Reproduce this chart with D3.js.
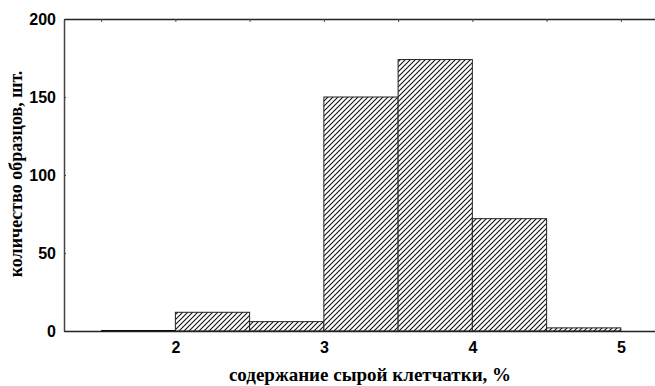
<!DOCTYPE html>
<html>
<head>
<meta charset="utf-8">
<script src="https://cdn.jsdelivr.net/npm/d3@7"></script>
<style>
  html, body { margin: 0; padding: 0; background: #fff; }
  svg { display: block; }
</style>
</head>
<body>
<svg id="chart" width="655" height="386"></svg>
<script>
// Histogram bins (lower edge, upper edge) and sample counts
const binStarts = [1.5, 2.0, 2.5, 3.0, 3.5, 4.0, 4.5];
const binEnds   = [2.0, 2.5, 3.0, 3.5, 4.0, 4.5, 5.0];
const counts    = [0, 12, 6, 150, 174, 72, 2];
const xTicks = [2, 3, 4, 5];
const yTicks = [0, 50, 100, 150, 200];
const topTicks = [1.5, 2, 2.5, 3, 3.5, 4, 4.5, 5];

const svg = d3.select("#chart");
const W = 655, H = 386;
const m = { left: 64, right: 0, top: 19, bottom: 55 };

const x = d3.scaleLinear().domain([1.25, 5.23]).range([m.left, W - m.right]);
const y = d3.scaleLinear().domain([0, 200]).range([H - m.bottom, m.top]);

// Diagonal hatch fill
const defs = svg.append("defs");
const pat = defs.append("pattern")
  .attr("id", "hatch")
  .attr("patternUnits", "userSpaceOnUse")
  .attr("width", 5).attr("height", 5);
pat.append("rect").attr("width", 5).attr("height", 5).attr("fill", "#fff");
pat.append("path")
  .attr("d", "M-1,1 L1,-1 M0,5 L5,0 M4,6 L6,4")
  .attr("stroke", "#111").attr("stroke-width", 1.1);

const data = binStarts.map((s, i) => ({ x0: s, x1: binEnds[i], n: counts[i] }));

svg.append("g").selectAll("rect")
  .data(data)
  .join("rect")
  .attr("x", d => x(d.x0))
  .attr("y", d => y(d.n))
  .attr("width", d => x(d.x1) - x(d.x0))
  .attr("height", d => y(0) - y(d.n))
  .attr("fill", "url(#hatch)")
  .attr("stroke", "#222")
  .attr("stroke-width", 1);

// Zero-height first bin shows as a heavier baseline segment
svg.append("line")
  .attr("x1", x(binStarts[0])).attr("x2", x(binEnds[0]))
  .attr("y1", y(0)).attr("y2", y(0))
  .attr("stroke", "#000").attr("stroke-width", 2);

const tickFont = "'Liberation Sans', Arial, sans-serif";

// Left axis
const yAxis = svg.append("g")
  .attr("transform", `translate(${m.left},0)`)
  .call(d3.axisLeft(y).tickValues(yTicks).tickSizeInner(-2).tickSizeOuter(0).tickPadding(8));
yAxis.select(".domain").attr("stroke", "#444").attr("stroke-width", 1.5);
yAxis.selectAll(".tick line").attr("stroke", "#444");
yAxis.selectAll("text")
  .attr("font-family", tickFont).attr("font-weight", "bold")
  .attr("font-size", 16).attr("fill", "#000");

// Bottom axis
const xAxis = svg.append("g")
  .attr("transform", `translate(0,${y(0)})`)
  .call(d3.axisBottom(x).tickValues(xTicks).tickFormat(d3.format("d")).tickSize(0).tickPadding(11));
xAxis.select(".domain").attr("stroke", "#222").attr("stroke-width", 1.5);
xAxis.selectAll("text")
  .attr("font-family", tickFont).attr("font-weight", "bold")
  .attr("font-size", 16).attr("fill", "#000");

// Top frame line with inward ticks at each bin edge
const tAxis = svg.append("g")
  .attr("transform", `translate(0,${m.top})`)
  .call(d3.axisTop(x).tickValues(topTicks).tickSizeInner(-3).tickSizeOuter(0).tickFormat(""));
tAxis.select(".domain").attr("stroke", "#222").attr("stroke-width", 1.5);
tAxis.selectAll(".tick line").attr("stroke", "#444");

// Axis titles
const titleFont = "'Liberation Serif', 'Times New Roman', serif";
svg.append("text")
  .attr("x", 370).attr("y", 381)
  .attr("text-anchor", "middle")
  .attr("font-family", titleFont).attr("font-weight", "bold").attr("font-size", 19)
  .text("содержание сырой клетчатки, %");

svg.append("text")
  .attr("transform", `translate(22,174) rotate(-90)`)
  .attr("text-anchor", "middle")
  .attr("font-family", titleFont).attr("font-weight", "bold").attr("font-size", 18)
  .text("количество образцов, шт.");
</script>
</body>
</html>
